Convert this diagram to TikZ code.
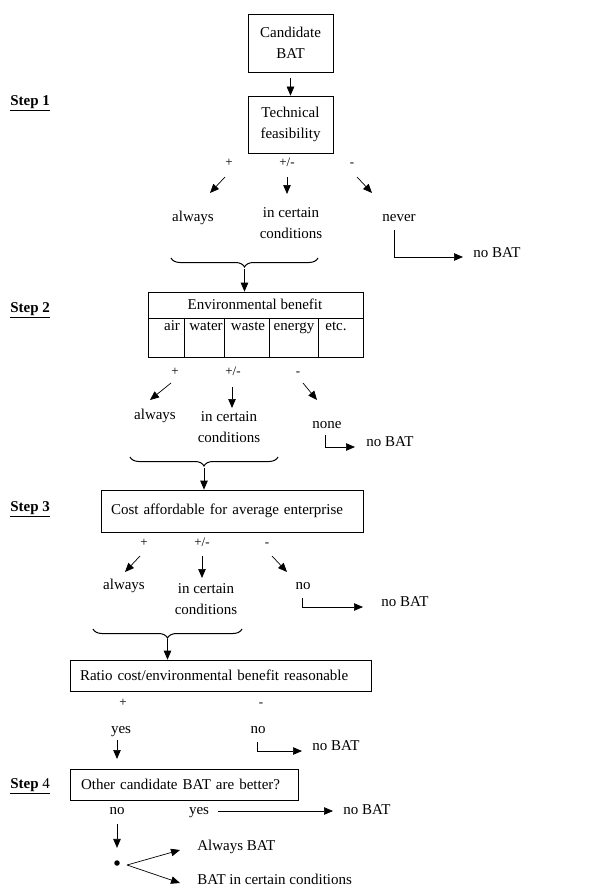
\documentclass[tikz,border=0pt]{standalone}
\usepackage{fontspec}
\setmainfont{Liberation Serif}
\usetikzlibrary{positioning,calc,decorations.pathreplacing,arrows.meta}

\begin{document}
\begin{tikzpicture}[
    x=1pt, y=-1pt, line width=0.7pt,
    font=\fontsize{15}{21}\selectfont,
    boxnode/.style={draw, rectangle, inner sep=0pt, align=center},
    lbl/.style={inner sep=0pt, text height=10pt, text depth=3pt},
    sign/.style={lbl, font=\fontsize{13}{15}\selectfont},
    arr/.style={-{Triangle[length=9pt,width=7.5pt]}},
    brc/.style={decorate, decoration={brace, mirror, amplitude=9pt}, line width=1pt},
    steplabel/.style={lbl, anchor=west, font=\fontsize{15}{17}\selectfont\bfseries}
]
    \useasboundingbox (0,0) rectangle (609,888);

    \node[steplabel] (st1) at (10,102) {\underline{Step 1}};
    \node[boxnode, minimum width=85pt, minimum height=58pt] (cand) at (290.5,43) {Candidate\\BAT};
    \node[boxnode, minimum width=85pt, minimum height=57pt] (tech) at (290.5,124.5) {Technical\\feasibility};
    \draw[arr, shorten <=6pt] (cand) -- (tech);
    \foreach \nm/\x/\s in {p1/229/+, pm1/287/{+/-}, m1/352/-} \node[sign] (\nm) at (\x,163) {\s};
    \draw[arr] ($(p1)+(-4,14)$) -- ++(-15,16);
    \draw[arr] ($(pm1)+(0,14)$) -- ++(0,17);
    \draw[arr] ($(m1)+(5,14)$) -- ++(15,16);
    \node[lbl] (alw1) at (193,218) {always};
    \node[align=center] (cert1) at (291,223) {in certain\\conditions};
    \node[lbl] (nev1) at (399,218) {never};
    \node[lbl, anchor=west] (nob1) at (473,254) {no BAT};
    \draw[arr] ($(nev1)+(-5,12)$) |- ($(nob1.west)+(-10,3)$);
    \coordinate (b1l) at (171,258);
    \coordinate (b1r) at (318,258);
    \draw[brc] (b1l) -- (b1r);
    \coordinate (b1t) at ($(b1l)!0.5!(b1r)+(0,11)$);

    \node[steplabel] (st2) at (10,309) {\underline{Step 2}};
    \node[boxnode, minimum width=215pt, minimum height=65pt] (env) at (255.5,324.5) {};
    \draw[arr] (b1t) -- (b1t |- env.north);
    \node[lbl] (envt) at (255,306) {Environmental benefit};
    \draw ([yshift=-27pt]env.north west) -- ([yshift=-27pt]env.north east);
    \foreach \cx in {37,77,122,171} \draw ([xshift=\cx pt, yshift=-27pt]env.north west) -- ([xshift=\cx pt]env.south west);
    \foreach \nm/\x/\t in {air/172/air, wat/206/water, was/248/waste, ene/294/energy, etc/336/etc.} \node[lbl] (\nm) at (\x,327) {\t};
    \foreach \nm/\x/\s in {p2/175/+, pm2/233/{+/-}, m2/298/-} \node[sign] (\nm) at (\x,372) {\s};
    \draw[arr] ($(p2)+(-4,11)$) -- ++(-21,17);
    \draw[arr] ($(pm2)+(-1,15)$) -- ++(0,21);
    \draw[arr] ($(m2)+(5,11)$) -- ++(14,17);
    \node[lbl] (alw2) at (155,416) {always};
    \node[align=center] (cert2) at (229,427.5) {in certain\\conditions};
    \node[lbl] (non2) at (327,425) {none};
    \node[lbl, anchor=west] (nob2) at (366,443) {no BAT};
    \draw[arr] ($(non2)+(-2,10)$) |- ($(nob2.west)+(-11,4)$);
    \coordinate (b2l) at (130,457);
    \coordinate (b2r) at (278,457);
    \draw[brc] (b2l) -- (b2r);
    \coordinate (b2t) at ($(b2l)!0.5!(b2r)+(0,11)$);

    \node[steplabel] (st3) at (10,508) {\underline{Step 3}};
    \node[boxnode, minimum width=262pt, minimum height=42pt, text width=242pt, align=left] (cost) at (232,511) {Cost affordable for average enterprise};
    \draw[arr] (b2t) -- (b2t |- cost.north);
    \foreach \nm/\x/\s in {p3/144/+, pm3/202/{+/-}, m3/267/-} \node[sign] (\nm) at (\x,543) {\s};
    \draw[arr] ($(p3)+(-4,13)$) -- ++(-15,16);
    \draw[arr] ($(pm3)+(0,13)$) -- ++(0,22);
    \draw[arr] ($(m3)+(5,13)$) -- ++(15,16);
    \node[lbl] (alw3) at (124,586) {always};
    \node[align=center] (cert3) at (206,599) {in certain\\conditions};
    \node[lbl] (no3) at (303,586) {no};
    \node[lbl, anchor=west] (nob3) at (381,603) {no BAT};
    \draw[arr] ($(no3)+(-1,12)$) |- ($(nob3.west)+(-18,4)$);
    \coordinate (b3l) at (93,629);
    \coordinate (b3r) at (242,629);
    \draw[brc] (b3l) -- (b3r);
    \coordinate (b3t) at ($(b3l)!0.5!(b3r)+(0,10)$);

    \node[boxnode, minimum width=301pt, minimum height=31pt, text width=281pt, align=left] (ratio) at (220.5,675.5) {Ratio cost/environmental benefit reasonable};
    \draw[arr] (b3t) -- (b3t |- ratio.north);
    \foreach \nm/\x/\s in {p4/123/+, m4/261/-} \node[sign] (\nm) at (\x,703) {\s};
    \node[lbl] (yes4) at (121,730) {yes};
    \node[lbl] (no4) at (258,730) {no};
    \node[lbl, anchor=west] (nob4) at (312,747) {no BAT};
    \draw[arr] ($(yes4)+(-4,10)$) -- ++(0,19);
    \draw[arr] ($(no4)+(-1,12)$) |- ($(nob4.west)+(-10,4)$);

    \node[steplabel] (st4) at (10,785) {\underline{Step {\mdseries 4}}};
    \node[boxnode, minimum width=228pt, minimum height=31pt, text width=206pt, align=left] (other) at (184,784.5) {Other candidate BAT are better?};
    \node[lbl] (no5) at (117,811) {no};
    \node[lbl] (yes5) at (199,811) {yes};
    \node[lbl, anchor=west] (nob5) at (343,811) {no BAT};
    \draw[arr, shorten <=9pt, shorten >=10pt] (yes5.east) -- (nob5.west);
    \node[circle, fill, inner sep=0pt, minimum size=5.5pt] (dot) at (117,863) {};
    \draw[arr, shorten <=6pt, shorten >=12pt] (no5) -- (dot);
    \node[lbl, anchor=west] (alwb) at (197,847) {Always BAT};
    \node[lbl, anchor=west] (batc) at (197,881) {BAT in certain conditions};
    \draw[arr] ($(dot)+(10,2)$) -- ($(alwb.west)+(-17,3)$);
    \draw[arr] ($(dot)+(10,2)$) -- ($(batc.west)+(-17,2)$);
\end{tikzpicture}
\end{document}
